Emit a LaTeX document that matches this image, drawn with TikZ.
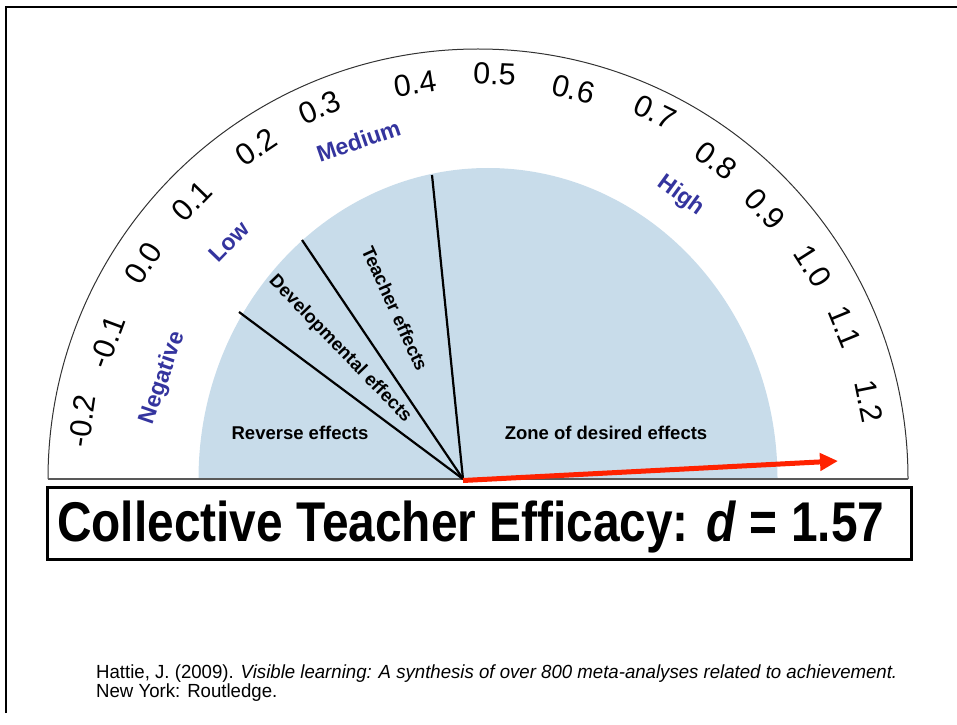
\documentclass[tikz,border=0pt]{standalone}
\usepackage{fontspec}
\setmainfont{Liberation Sans}
\usetikzlibrary{arrows.meta}
\definecolor{gaugeblue}{RGB}{200,220,234}
\definecolor{catblue}{RGB}{52,52,158}
\definecolor{arrowred}{RGB}{255,34,0}
\begin{document}
\begin{tikzpicture}[x=1pt,y=1pt,
  tick/.style={font=\fontsize{30.5}{30.5}\selectfont, inner sep=0pt},
  cat/.style={font=\fontsize{23}{23}\selectfont\bfseries, text=catblue, inner sep=0pt},
  zone/.style={font=\fontsize{18.5}{18.5}\selectfont\bfseries, inner sep=0pt},
  divider/.style={line width=2.2pt, black},
  frameline/.style={line width=2pt, black},
]
\useasboundingbox (0,0) rectangle (957,724);
% slide frame (top and left edges)
\coordinate (fA) at (6,11);
\coordinate (fB) at (6,717);
\coordinate (fC) at (957,717);
\draw[frameline] (fA) -- (fB) -- (fC);

% blue zone
\fill[gaugeblue] (198.5,245) arc[start angle=180,end angle=0,x radius=289.5,y radius=311] -- cycle;

% outer scale arc and baseline
\coordinate (bL) at (48,245);
\coordinate (bR) at (908,245);
\draw[line width=1pt, black!80] (bL) arc[start angle=180, end angle=0, radius=430];
\draw[line width=1.3pt, black!65] (bL) -- (bR);

% dividers
\coordinate (O) at (463,245);
\coordinate (L1) at (239,412);
\coordinate (L2) at (302,484);
\coordinate (L3) at (432,549);
\draw[divider] (O) -- (L1);
\draw[divider] (O) -- (L2);
\draw[divider] (O) -- (L3);

% red arrow
\coordinate (A0) at (463,243.5);
\coordinate (A1) at (838,263);
\draw[line width=5pt, arrowred, -{Triangle[length=18pt,width=17pt]}] (A0) -- (A1);

% tick labels
\node[tick, rotate=81.7]  (t1)  at (82,303)    {-0.2};
\node[tick, rotate=69.7]  (t2)  at (107,382)   {-0.1};
\node[tick, rotate=57.2]  (t3)  at (143,461)   {0.0};
\node[tick, rotate=45.8]  (t4)  at (192,523)   {0.1};
\node[tick, rotate=33.8]  (t5)  at (256,577)   {0.2};
\node[tick, rotate=23.1]  (t6)  at (319.5,616.5) {0.3};
\node[tick, rotate=9.0]   (t7)  at (415,640.5) {0.4};
\node[tick, rotate=-2.4]  (t8)  at (494.5,650) {0.5};
\node[tick, rotate=-13.8] (t9)  at (573.5,635) {0.6};
\node[tick, rotate=-25.8] (t10) at (655,612)   {0.7};
\node[tick, rotate=-36.8] (t11) at (716,563)   {0.8};
\node[tick, rotate=-46.7] (t12) at (765,515)   {0.9};
\node[tick, rotate=-57.6] (t13) at (813,458)   {1.0};
\node[tick, rotate=-67.5] (t14) at (845,397)   {1.1};
\node[tick, rotate=-78.7] (t15) at (869,323)   {1.2};

% category labels
\node[cat, rotate=71]  (cNeg)  at (163,346)   {Negative};
\node[cat, rotate=46]  (cLow)  at (229,482)   {Low};
\node[cat, rotate=19]  (cMed)  at (358.5,583) {Medium};
\node[cat, rotate=-36] (cHigh) at (681,528)   {High};

% zone labels
\node[zone] (zRev)  at (300,291) {Reverse effects};
\node[zone] (zDes)  at (606,291) {Zone of desired effects};
\node[zone, rotate=-46]   (zDev)  at (340,375)   {Developmental effects};
\node[zone, rotate=-65.5] (zTea)  at (395,415.5) {Teacher effects};

% title box
\node[draw, line width=3pt, minimum width=864pt, minimum height=72pt, inner sep=0pt] (titlebox) at (479,201) {};
\node[anchor=base west, inner sep=0pt] (title) at (57,183)
  {\scalebox{0.854}[1]{\fontsize{56}{56}\selectfont\bfseries Collective Teacher Efficacy: \textit{d} = 1.57}};

% citation
\node[anchor=base west, inner sep=0pt] (cit1) at (96,46)
  {\scalebox{0.98}[1]{\fontsize{19}{19}\selectfont Hattie, J. (2009). \textit{Visible learning: A synthesis of over 800 meta-analyses related to achievement.}}};
\node[anchor=base west, inner sep=0pt] (cit2) at (96,27)
  {\scalebox{0.98}[1]{\fontsize{19}{19}\selectfont New York: Routledge.}};
\end{tikzpicture}
\end{document}
